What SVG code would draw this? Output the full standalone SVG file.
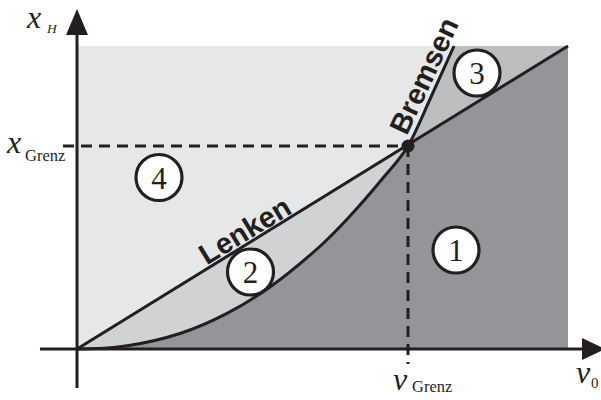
<svg xmlns="http://www.w3.org/2000/svg" width="601" height="400" viewBox="0 0 601 400">
<style>
.ax{stroke:#231f20;stroke-width:3;fill:none}
.dash{stroke:#231f20;stroke-width:3;fill:none;stroke-dasharray:11 7}
.crv{stroke:#231f20;stroke-width:3;fill:none}
.num circle{fill:#fff;stroke:#231f20;stroke-width:3.2}
.num text{font-family:"Liberation Serif","Times New Roman",serif;font-size:31px;fill:#231f20;text-anchor:middle}
.lbl{font-family:"Liberation Sans",Arial,sans-serif;font-weight:bold;font-size:29px;fill:#231f20;text-anchor:middle}
.m{font-family:"Liberation Serif","Times New Roman",serif;font-style:italic;font-size:32px;fill:#231f20}
.s{font-family:"Liberation Serif","Times New Roman",serif;font-size:16.5px;fill:#231f20}
</style>
<g id="regions">
<rect x="77" y="46" width="491" height="303" fill="#e6e7e8"/>
<path d="M77,349 L568,46 L568,349 Z" fill="#d1d2d4"/>
<path d="M77,349 C93.7,349 109.8,348.4 127,345.8 C144.2,343.2 163.3,338.9 180,333.5 C196.7,328.1 212,321.2 227,313.4 C242,305.7 255,297.7 270,287 C285,276.3 303.7,260.8 317,249 C330.3,237.2 339,227.8 350,216 C361,204.2 373.3,189.7 383,178 C392.7,166.3 400,159.5 408,146 C416,132.5 423.3,113.7 431,97 C438.7,80.3 446.3,63 454,46 L568,46 L568,349 Z" fill="#bcbec0"/>
<path d="M77,349 C93.7,349 109.8,348.4 127,345.8 C144.2,343.2 163.3,338.9 180,333.5 C196.7,328.1 212,321.2 227,313.4 C242,305.7 255,297.7 270,287 C285,276.3 303.7,260.8 317,249 C330.3,237.2 339,227.8 350,216 C361,204.2 373.3,189.7 383,178 C392.7,166.3 400,159.5 408,146 L568,46 L568,349 Z" fill="#939598"/>
</g>
<g id="connectors">
<line class="dash" x1="63" y1="146" x2="408" y2="146"/>
<line class="dash" x1="408" y1="146" x2="408" y2="364"/>
<line id="lenken-line" class="crv" x1="77" y1="349" x2="568" y2="46"/>
<path id="bremsen-curve" class="crv" d="M77,349 C93.7,349 109.8,348.4 127,345.8 C144.2,343.2 163.3,338.9 180,333.5 C196.7,328.1 212,321.2 227,313.4 C242,305.7 255,297.7 270,287 C285,276.3 303.7,260.8 317,249 C330.3,237.2 339,227.8 350,216 C361,204.2 373.3,189.7 383,178 C392.7,166.3 400,159.5 408,146 C416,132.5 423.3,113.7 431,97 C438.7,80.3 446.3,63 454,46"/>
<line class="ax" x1="40" y1="349" x2="585" y2="349"/>
<polygon points="605,349 582,338 582,360" fill="#231f20"/>
<line class="ax" x1="77" y1="388" x2="77" y2="32"/>
<polygon points="77,9 66,35 88,35" fill="#231f20"/>
<circle cx="408" cy="146" r="6.5" fill="#231f20"/>
</g>
<g id="label-lenken"><text class="lbl" transform="translate(250,239) rotate(-31.6)">Lenken</text></g>
<g id="label-bremsen"><text class="lbl" transform="translate(433,80) rotate(-65)">Bremsen</text></g>
<g id="node-1" class="num"><circle cx="456" cy="250" r="23"/><text x="456" y="261">1</text></g>
<g id="node-2" class="num"><circle cx="250.5" cy="272" r="23"/><text x="250.5" y="283">2</text></g>
<g id="node-3" class="num"><circle cx="477" cy="73" r="23"/><text x="477" y="84">3</text></g>
<g id="node-4" class="num"><circle cx="159" cy="177.5" r="23"/><text x="159" y="188.5">4</text></g>
<g id="axis-labels">
<text class="m" x="27" y="28">x</text><text class="s" font-style="italic" x="47" y="33" style="font-size:13.5px">H</text>
<text class="m" x="7" y="153">x</text><text class="s" x="25" y="161">Grenz</text>
<text class="m" x="393" y="390">v</text><text class="s" x="412" y="392">Grenz</text>
<text class="m" x="576" y="383">v</text><text class="s" x="591" y="388" style="font-size:15px">0</text>
</g>
</svg>
